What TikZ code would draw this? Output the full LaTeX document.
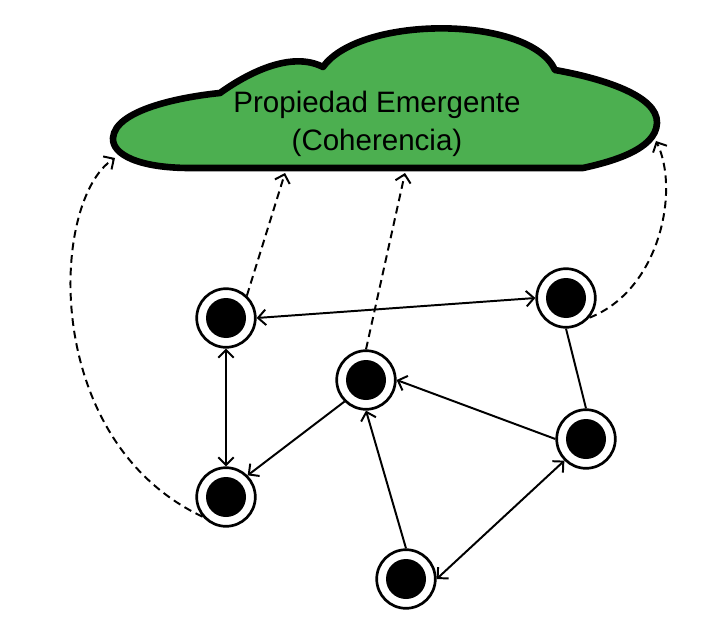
\documentclass[tikz,border=0pt]{standalone}
\usepackage{fontspec}
\setmainfont{Liberation Sans}
\usepackage{xcolor}
\usepackage{tikz}
\usetikzlibrary{automata, positioning, arrows.meta}

\definecolor{cloudgreen}{HTML}{4CAF50}

\begin{document}
\begin{tikzpicture}[>={Straight Barb[length=5.5pt, width=11pt]}, line width=1.4pt, on grid,
    every state/.style={draw, line width=1.9pt, fill=white, minimum size=1.465cm, inner sep=0pt,
        path picture={\fill[black] (path picture bounding box.center) circle (0.5cm);}},
    cloudshape/.style={draw, fill=cloudgreen, line width=4.7pt, line join=round},
    upward/.style={->, dash pattern=on 5.5pt off 3.5pt}]
    \useasboundingbox (0,0) rectangle (17.675,15.925);

    % emergent property
    \draw[cloudshape] (14.575,11.725) -- (4.75,11.725)
        .. controls (3.5,11.725) and (2.8,12.05) .. (2.825,12.475)
        .. controls (2.875,13.175) and (4.5,13.5) .. (5.5,13.6)
        .. controls (6.125,14.05) and (7.25,14.675) .. (8.075,14.25)
        .. controls (9.0,15.55) and (13.25,15.55) .. (13.875,14.175)
        .. controls (15.0,13.975) and (16.45,13.55) .. (16.425,12.85)
        .. controls (16.4,12.175) and (15.25,11.875) .. (14.575,11.725) -- cycle;
    \node[align=center, font=\fontsize{21}{27}\selectfont] (prop) at (9.425,12.84)
        {Propiedad Emergente\\(Coherencia)};

    \coordinate (c-left) at (2.875,11.975);
    \coordinate (c-a) at (7.125,11.6);
    \coordinate (c-c) at (10.125,11.6);
    \coordinate (c-right) at (16.4,12.4);

    % agents
    \node[state] (a) at (5.65,7.975) {};
    \node[state] (b) [above right=0.5cm and 8.5cm of a] {};
    \node[state] (c) [below right=1.55cm and 3.5cm of a] {};
    \node[state] (d) [below right=3.525cm and 0.5cm of b] {};
    \node[state] (e) [below=4.475cm of a] {};
    \node[state] (f) [below right=4.975cm and 1cm of c] {};

    \draw[<->] (a.east) -- (b.west);
    \draw[<->] (a.south) -- (e.north);
    \draw[->] (c.225) -- (e.45);
    \draw[->] (d.west) -- (c.east);
    \draw[->] (f.north) -- (c.south);
    \draw[<->] (f.east) -- (d.225);
    \draw (b.south) -- (d.north);

    \draw[upward] (a.47) -- (c-a);
    \draw[upward] (c.north) -- (c-c);
    \draw[upward] (e.220) .. controls (1.0,4.925) and (1.25,10.925) .. (c-left);
    \draw[upward] (b.320) .. controls (16.5,8.675) and (17.0,11.175) .. (c-right);
\end{tikzpicture}
\end{document}
